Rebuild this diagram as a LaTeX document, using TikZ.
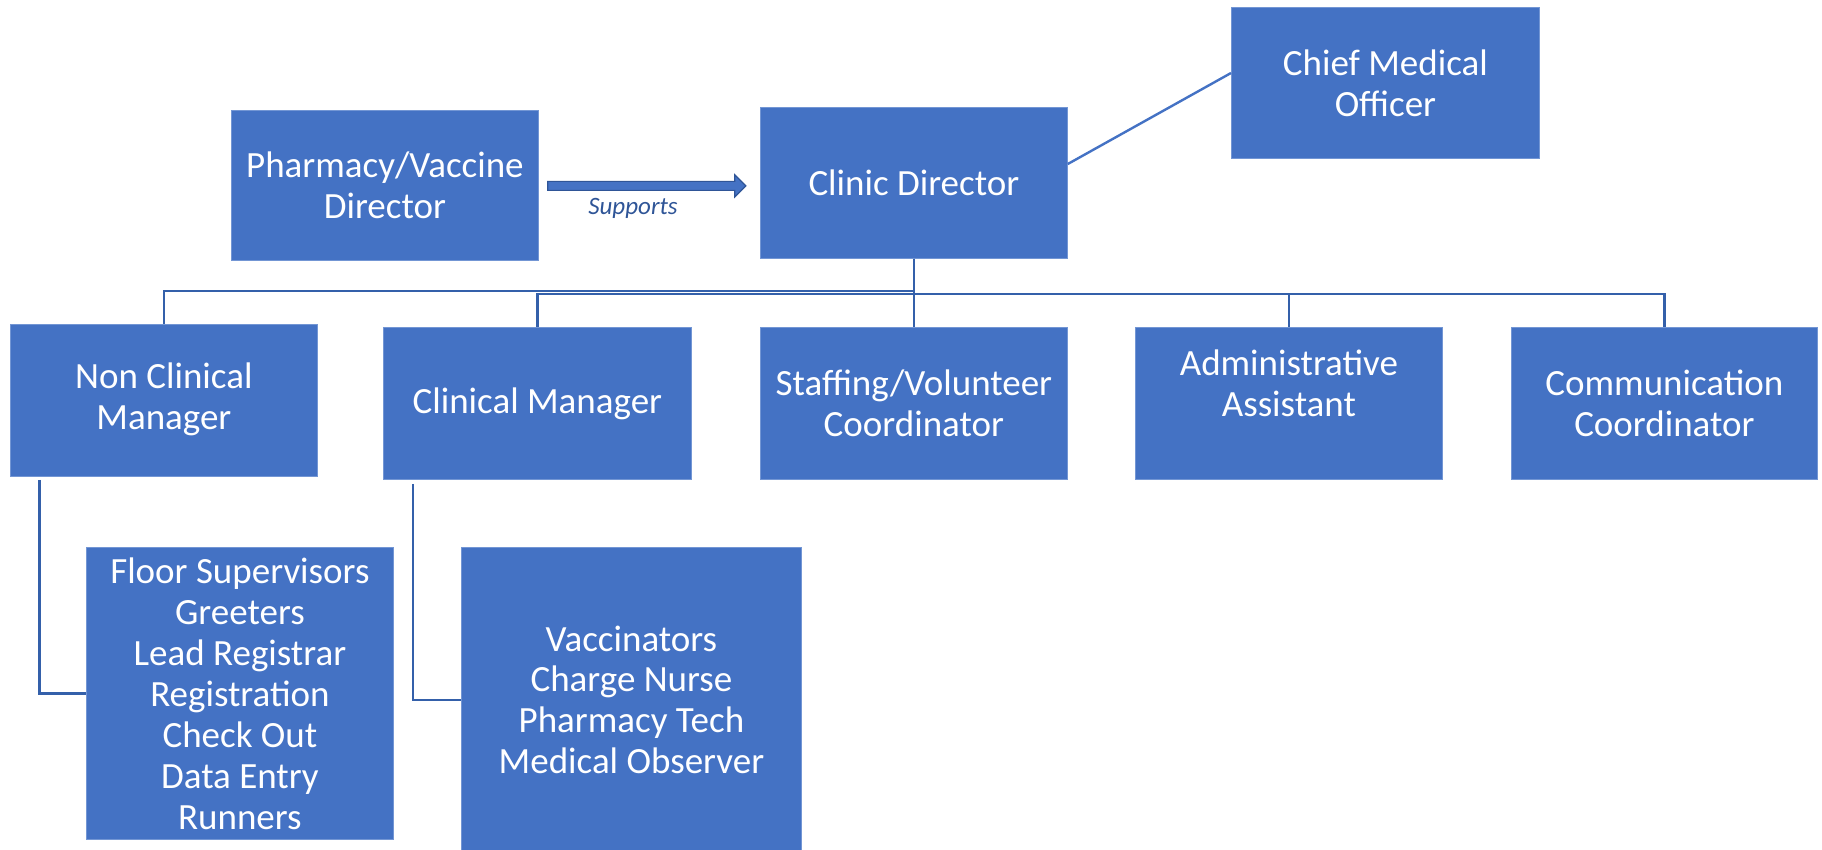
\documentclass[tikz,border=0pt]{standalone}
\usepackage{fontspec}
\setmainfont{Carlito}
\usetikzlibrary{calc}
\definecolor{boxblue}{HTML}{4472C4}
\definecolor{boxedge}{HTML}{7396D4}
\definecolor{linkblue}{HTML}{3460AA}
\definecolor{darkblue}{HTML}{2F5597}
\begin{document}
\begin{tikzpicture}[x=1pt,y=-1pt,
  box/.style={rectangle, fill=boxblue, draw=boxedge, line width=0.8pt,
    anchor=north west, inner sep=0pt, text=white, align=center,
    font=\fontsize{37}{41}\selectfont},
  conn/.style={draw=linkblue, line width=2.4pt},
  diag/.style={draw=boxblue, line width=2.4pt}]
\useasboundingbox (0,0) rectangle (1822,850);

% top row
\node[box, minimum width=307pt, minimum height=150pt] (pv) at (231,110) {Pharmacy/Vaccine\\Director};
\node[box, minimum width=307pt, minimum height=151pt] (cd) at (760,107) {Clinic Director};
\node[box, minimum width=308pt, minimum height=151pt] (cmo) at (1231,7) {Chief Medical\\Officer};

% managers and coordinators
\node[box, minimum width=307pt, minimum height=152pt, text depth=8pt] (nc) at (10,324) {Non Clinical\\Manager};
\node[box, minimum width=308pt, minimum height=152pt] (cm) at (383,327) {Clinical Manager};
\node[box, minimum width=307pt, minimum height=152pt] (sv) at (760,327) {Staffing/Volunteer\\Coordinator};
\node[box, minimum width=307pt, minimum height=152pt, text depth=40pt] (aa) at (1135,327) {Administrative\\Assistant};
\node[box, minimum width=306pt, minimum height=152pt] (cc) at (1511,327) {Communication\\Coordinator};

% staff lists
\node[box, minimum width=307pt, minimum height=292pt] (fl) at (86,547)
  {Floor Supervisors\\Greeters\\Lead Registrar\\Registration\\Check Out\\Data Entry\\Runners};
\node[box, minimum width=340pt, minimum height=305pt] (vc) at (461,547)
  {Vaccinators\\Charge Nurse\\Pharmacy Tech\\Medical Observer};

% "Supports" block arrow
\coordinate (as) at ($(pv.east)+(9,0.5)$);
\coordinate (ae) at ($(pv.east)+(207,0.5)$);
\fill[boxblue, draw=darkblue, line width=1.2pt]
  ($(as)+(0,-4.5)$) -- ($(ae)+(-11,-4.5)$) -- ($(ae)+(-11,-11)$) -- (ae)
  -- ($(ae)+(-11,11)$) -- ($(ae)+(-11,4.5)$) -- ($(as)+(0,4.5)$) -- cycle;
\node[text=darkblue, font=\fontsize{25}{29}\selectfont\itshape] (sup) at (633,208) {Supports};

% clinic director to chief medical officer
\draw[diag] ($(cd.north east)+(0,57)$) -- ($(cmo.north west)+(0,66)$);

% clinic director to the row below
\draw[conn] (cd.south) -- ++(0,32) -| (nc.north);
\draw[conn] (cd.south) -- ++(0,35) -| (cm.north);
\draw[conn] (cd.south) -- (sv.north);
\draw[conn] (cd.south) -- ++(0,35) -| (aa.north);
\draw[conn] (cd.south) -- ++(0,35) -| (cc.north);

% managers to their staff
\draw[conn] ($(nc.south west)+(29.5,3)$) |- (fl.west);
\draw[conn] ($(cm.south west)+(30,4)$) |- ($(vc.north west)+(0,153)$);
\end{tikzpicture}
\end{document}
